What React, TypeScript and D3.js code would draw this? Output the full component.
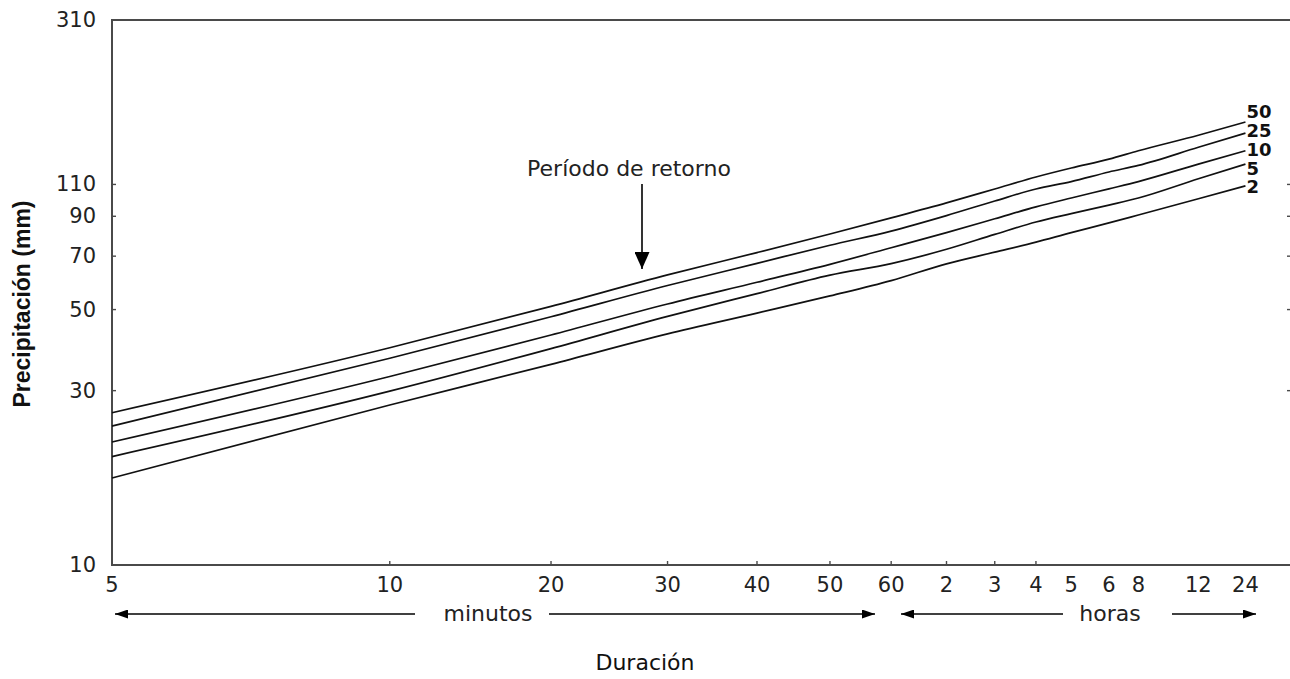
import React from 'react';
import * as d3 from 'd3';

// duration ticks (minutes), labels as printed
const durations = [5, 10, 20, 30, 40, 50, 60, 120, 180, 240, 300, 360, 480, 720, 1440];
const durationLabels = ['5', '10', '20', '30', '40', '50', '60', '2', '3', '4', '5', '6', '8', '12', '24'];
// the printed axis is hand spaced: fraction of plot width for each duration
const durationPos = [0, 0.236, 0.373, 0.472, 0.548, 0.610, 0.662, 0.709, 0.750, 0.785, 0.815, 0.847, 0.872, 0.923, 0.963];
const tickedDurations = [10, 20, 30, 40, 50, 60, 120, 180, 240];

const yTicks = [10, 30, 50, 70, 90, 110, 310];

const returnPeriods = ['50', '25', '10', '5', '2'];
const p50 = [26.1, 39.3, 51.0, 62.2, 71.6, 80.5, 89.1, 97.9, 106.9, 115.3, 122, 129, 136, 150, 163];
const p25 = [24.0, 36.8, 47.8, 58.2, 66.9, 75.0, 82.0, 90.4, 99.1, 106.9, 112, 119, 124, 139, 152];
const p10 = [21.7, 32.8, 42.6, 51.8, 59.4, 66.5, 73.8, 81.2, 88.6, 95.5, 101, 107, 112, 125, 136];
const p5 = [19.8, 29.9, 39.1, 47.9, 55.3, 62.1, 66.8, 73.1, 80.3, 86.8, 91.5, 96.6, 101, 114, 125];
const p2 = [17.3, 27.4, 35.4, 42.9, 48.9, 54.5, 60.0, 66.7, 71.8, 76.5, 81.2, 86.3, 90.7, 100.5, 109];
const seriesValues = [p50, p25, p10, p5, p2];

const W = 1290;
const H = 679;
const m = { left: 112, right: 1, top: 20, bottom: 114 };

export default function App() {
  const pw = W - m.left - m.right;
  const x = d3.scaleLinear()
    .domain(durations)
    .range(durationPos.map(f => m.left + f * pw));
  const y = d3.scaleLog().domain([10, 310]).range([H - m.bottom, m.top]);

  const line = d3.line<[number, number]>()
    .x(d => x(d[0]))
    .y(d => y(d[1]))
    .curve(d3.curveMonotoneX);

  const bottom = H - m.bottom;
  const axisColor = '#4a4a4a';
  const font = '"DejaVu Sans", Verdana, sans-serif';
  const boldFont = 'Arial, "Liberation Sans", sans-serif';
  const txt = '#222';
  const arrowY = 614;

  // end labels are stacked evenly above the lowest curve's end
  const lastX = x(durations[durations.length - 1]);
  const lowEnd = y(p2[p2.length - 1]);

  return (
    <div style={{ position: 'fixed', left: 0, top: 0 }}>
      <svg width={W} height={H} style={{ display: 'block', background: '#fff' }} fontFamily={font}>
        <defs>
          <marker id="ah" viewBox="0 0 10 10" refX="10" refY="5" markerWidth="13" markerHeight="9"
            markerUnits="userSpaceOnUse" orient="auto-start-reverse" preserveAspectRatio="none">
            <path d="M0,0 L10,5 L0,10 z" fill="#000" />
          </marker>
          <marker id="ahBig" viewBox="0 0 10 10" refX="10" refY="5" markerWidth="17" markerHeight="15"
            markerUnits="userSpaceOnUse" orient="auto" preserveAspectRatio="none">
            <path d="M0,0 L10,5 L0,10 z" fill="#000" />
          </marker>
        </defs>

        {/* frame: left, top, bottom */}
        <path d={`M${W},${m.top}H${m.left}V${bottom}H${W}`} fill="none" stroke={axisColor} strokeWidth={2} />

        {/* y ticks */}
        {yTicks.map(t => (
          <g key={t}>
            {t > 10 && t < 310 && (
              <>
                <line x1={m.left} x2={m.left + 4} y1={y(t)} y2={y(t)} stroke={axisColor} strokeWidth={1.4} />
                <line x1={W - 3} x2={W} y1={y(t)} y2={y(t)} stroke={axisColor} strokeWidth={1.4} />
              </>
            )}
            <text x={96} y={y(t)} textAnchor="end" dominantBaseline="central" fontSize={21} fill={txt}>{t}</text>
          </g>
        ))}

        {/* x ticks */}
        {tickedDurations.map(d => (
          <line key={d} x1={x(d)} x2={x(d)} y1={bottom} y2={bottom - 4} stroke={axisColor} strokeWidth={1.4} />
        ))}
        {durations.map((d, i) => (
          <text key={d} x={x(d)} y={585} textAnchor="middle" dominantBaseline="central" fontSize={21} fill={txt}>
            {durationLabels[i]}
          </text>
        ))}

        {/* minutos / horas arrows */}
        <line x1={415} x2={115} y1={arrowY} y2={arrowY} stroke="#000" strokeWidth={1.5} markerEnd="url(#ah)" />
        <text x={488} y={arrowY - 1} textAnchor="middle" dominantBaseline="central" fontSize={22} fill={txt}>minutos</text>
        <line x1={549} x2={875} y1={arrowY} y2={arrowY} stroke="#000" strokeWidth={1.5} markerEnd="url(#ah)" />
        <line x1={1063} x2={901} y1={arrowY} y2={arrowY} stroke="#000" strokeWidth={1.5} markerEnd="url(#ah)" />
        <text x={1110} y={arrowY - 1} textAnchor="middle" dominantBaseline="central" fontSize={22} fill={txt}>horas</text>
        <line x1={1172} x2={1256} y1={arrowY} y2={arrowY} stroke="#000" strokeWidth={1.5} markerEnd="url(#ah)" />

        <text x={645} y={662} textAnchor="middle" dominantBaseline="central" fontSize={22} fill="#111">Duración</text>
        <text transform={`translate(22,304) rotate(-90)`} textAnchor="middle" fontFamily={boldFont}
          dominantBaseline="central" fontSize={23} fontWeight="bold" fill="#111">Precipitación (mm)</text>

        {/* curves */}
        {seriesValues.map((vals, i) => (
          <path key={returnPeriods[i]} d={line(vals.map((v, j) => [durations[j], v]) as [number, number][]) || ''}
            fill="none" stroke="#111" strokeWidth={1.7} />
        ))}
        {returnPeriods.map((rp, i) => (
          <text key={'l' + rp} x={lastX + 1} y={lowEnd + 1 - (returnPeriods.length - 1 - i) * 18.8}
            dominantBaseline="central" fontSize={18} fontWeight="bold" fill="#111">
            {rp}
          </text>
        ))}

        {/* annotation */}
        <text x={629} y={168} textAnchor="middle" dominantBaseline="central" fontSize={22} fill={txt}>Período de retorno</text>
        <line x1={642} x2={642} y1={184} y2={269} stroke="#000" strokeWidth={1.6} markerEnd="url(#ahBig)" />
      </svg>
    </div>
  );
}
